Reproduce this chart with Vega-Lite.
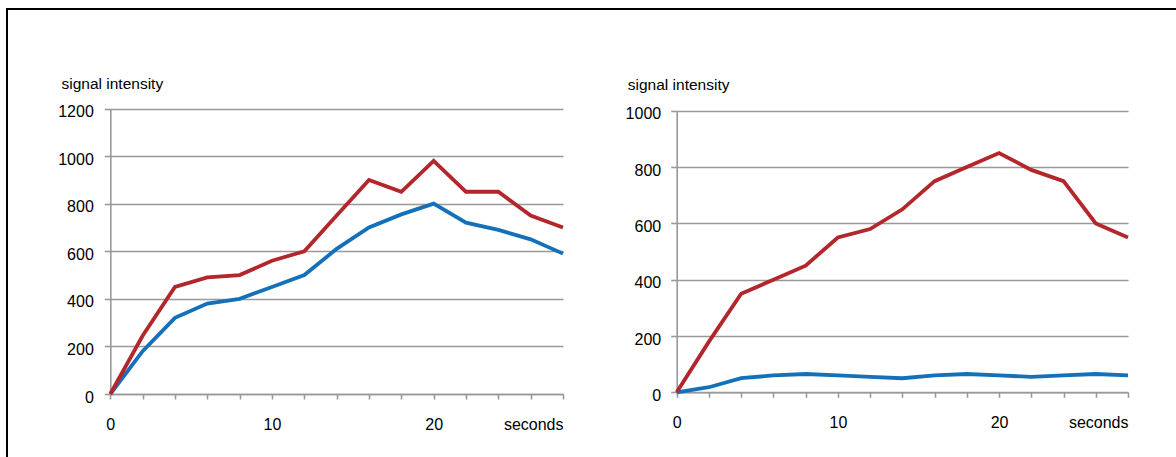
{
  "$schema": "https://vega.github.io/schema/vega-lite/v6.json",
  "width": 1169,
  "height": 448,
  "autosize": "none",
  "padding": {"left": 7, "top": 9, "right": 0, "bottom": 0},
  "background": "white",
  "config": {
    "view": {"stroke": "black", "strokeWidth": 2, "strokeDash": [1169, 1617, 448]},
    "axis": {
      "labelFont": "Liberation Sans",
      "labelFontSize": 16,
      "labelColor": "black",
      "titleFont": "Liberation Sans",
      "titleFontSize": 15.5,
      "titleFontWeight": "normal",
      "titleColor": "black",
      "domainColor": "#999999",
      "domainWidth": 1.6,
      "tickColor": "#999999",
      "tickWidth": 1.6,
      "gridColor": "#999999",
      "gridWidth": 1.6,
      "gridOpacity": 1
    }
  },
  "data": {
    "values": [
      {"panel": "L", "series": "blue", "t": 0, "v": 0},
      {"panel": "L", "series": "blue", "t": 2, "v": 180},
      {"panel": "L", "series": "blue", "t": 4, "v": 320},
      {"panel": "L", "series": "blue", "t": 6, "v": 380},
      {"panel": "L", "series": "blue", "t": 8, "v": 400},
      {"panel": "L", "series": "blue", "t": 10, "v": 450},
      {"panel": "L", "series": "blue", "t": 12, "v": 500},
      {"panel": "L", "series": "blue", "t": 14, "v": 610},
      {"panel": "L", "series": "blue", "t": 16, "v": 700},
      {"panel": "L", "series": "blue", "t": 18, "v": 755},
      {"panel": "L", "series": "blue", "t": 20, "v": 800},
      {"panel": "L", "series": "blue", "t": 22, "v": 720},
      {"panel": "L", "series": "blue", "t": 24, "v": 690},
      {"panel": "L", "series": "blue", "t": 26, "v": 650},
      {"panel": "L", "series": "blue", "t": 28, "v": 590},
      {"panel": "L", "series": "red", "t": 0, "v": 0},
      {"panel": "L", "series": "red", "t": 2, "v": 245},
      {"panel": "L", "series": "red", "t": 4, "v": 450},
      {"panel": "L", "series": "red", "t": 6, "v": 490},
      {"panel": "L", "series": "red", "t": 8, "v": 500},
      {"panel": "L", "series": "red", "t": 10, "v": 560},
      {"panel": "L", "series": "red", "t": 12, "v": 600},
      {"panel": "L", "series": "red", "t": 14, "v": 750},
      {"panel": "L", "series": "red", "t": 16, "v": 900},
      {"panel": "L", "series": "red", "t": 18, "v": 850},
      {"panel": "L", "series": "red", "t": 20, "v": 980},
      {"panel": "L", "series": "red", "t": 22, "v": 850},
      {"panel": "L", "series": "red", "t": 24, "v": 850},
      {"panel": "L", "series": "red", "t": 26, "v": 750},
      {"panel": "L", "series": "red", "t": 28, "v": 700},
      {"panel": "R", "series": "blue", "t": 0, "v": 0},
      {"panel": "R", "series": "blue", "t": 2, "v": 18},
      {"panel": "R", "series": "blue", "t": 4, "v": 50},
      {"panel": "R", "series": "blue", "t": 6, "v": 60},
      {"panel": "R", "series": "blue", "t": 8, "v": 65},
      {"panel": "R", "series": "blue", "t": 10, "v": 60},
      {"panel": "R", "series": "blue", "t": 12, "v": 55},
      {"panel": "R", "series": "blue", "t": 14, "v": 50},
      {"panel": "R", "series": "blue", "t": 16, "v": 60},
      {"panel": "R", "series": "blue", "t": 18, "v": 65},
      {"panel": "R", "series": "blue", "t": 20, "v": 60},
      {"panel": "R", "series": "blue", "t": 22, "v": 55},
      {"panel": "R", "series": "blue", "t": 24, "v": 60},
      {"panel": "R", "series": "blue", "t": 26, "v": 65},
      {"panel": "R", "series": "blue", "t": 28, "v": 60},
      {"panel": "R", "series": "red", "t": 0, "v": 0},
      {"panel": "R", "series": "red", "t": 2, "v": 180},
      {"panel": "R", "series": "red", "t": 4, "v": 350},
      {"panel": "R", "series": "red", "t": 6, "v": 400},
      {"panel": "R", "series": "red", "t": 8, "v": 450},
      {"panel": "R", "series": "red", "t": 10, "v": 550},
      {"panel": "R", "series": "red", "t": 12, "v": 580},
      {"panel": "R", "series": "red", "t": 14, "v": 650},
      {"panel": "R", "series": "red", "t": 16, "v": 750},
      {"panel": "R", "series": "red", "t": 18, "v": 800},
      {"panel": "R", "series": "red", "t": 20, "v": 850},
      {"panel": "R", "series": "red", "t": 22, "v": 790},
      {"panel": "R", "series": "red", "t": 24, "v": 750},
      {"panel": "R", "series": "red", "t": 26, "v": 600},
      {"panel": "R", "series": "red", "t": 28, "v": 550}
    ]
  },
  "layer": [
    {
      "transform": [{"filter": "datum.panel == 'L'"}],
      "mark": {"type": "line", "strokeWidth": 3.8, "strokeJoin": "miter"},
      "encoding": {
        "x": {
          "field": "t", "type": "quantitative",
          "scale": {"domain": [0, 28], "range": [103.3, 556], "nice": false, "zero": false},
          "axis": {
            "orient": "bottom", "offset": -63, "grid": false, "title": null,
            "values": [0, 2, 4, 6, 8, 10, 12, 14, 16, 18, 20, 22, 24, 26, 28],
            "tickSize": 5, "labelPadding": 17, "labelOverlap": false, "labelFlush": false, "labelBound": false,
            "labelExpr": "datum.value == 28 ? 'seconds' : (datum.value % 10 == 0 ? datum.label : '')",
            "labelAlign": {"condition": {"test": "datum.value == 28", "value": "right"}, "value": "center"}
          }
        },
        "y": {
          "field": "v", "type": "quantitative",
          "scale": {"domain": [0, 1200], "range": [385, 99.5], "nice": false},
          "axis": {
            "orient": "left", "offset": -103.3, "grid": true, "format": "d",
            "values": [0, 200, 400, 600, 800, 1000, 1200],
            "tickSize": 6, "labelPadding": 11, "labelOffset": 3,
            "title": "signal intensity", "titleAngle": 0, "titleAlign": "left", "titleBaseline": "alphabetic",
            "titleX": -49.3, "titleY": 79.3
          }
        },
        "color": {
          "field": "series", "type": "nominal",
          "scale": {"domain": ["blue", "red"], "range": ["#1470b8", "#b3262b"]},
          "legend": null
        }
      }
    },
    {
      "transform": [{"filter": "datum.panel == 'R'"}],
      "mark": {"type": "line", "strokeWidth": 3.8, "strokeJoin": "miter"},
      "encoding": {
        "x": {
          "field": "t", "type": "quantitative",
          "scale": {"domain": [0, 28], "range": [669.7, 1121], "nice": false, "zero": false},
          "axis": {
            "orient": "bottom", "offset": -64.7, "grid": false, "title": null,
            "values": [0, 2, 4, 6, 8, 10, 12, 14, 16, 18, 20, 22, 24, 26, 28],
            "tickSize": 5, "labelPadding": 17, "labelOverlap": false, "labelFlush": false, "labelBound": false,
            "labelExpr": "datum.value == 28 ? 'seconds' : (datum.value % 10 == 0 ? datum.label : '')",
            "labelAlign": {"condition": {"test": "datum.value == 28", "value": "right"}, "value": "center"}
          }
        },
        "y": {
          "field": "v", "type": "quantitative",
          "scale": {"domain": [0, 1000], "range": [383.3, 101.8], "nice": false},
          "axis": {
            "orient": "left", "offset": -669.7, "grid": true, "format": "d",
            "values": [0, 200, 400, 600, 800, 1000],
            "tickSize": 6, "labelPadding": 10, "labelOffset": 3,
            "title": "signal intensity", "titleAngle": 0, "titleAlign": "left", "titleBaseline": "alphabetic",
            "titleX": -49.4, "titleY": 80.3
          }
        },
        "color": {
          "field": "series", "type": "nominal",
          "scale": {"domain": ["blue", "red"], "range": ["#1470b8", "#b3262b"]},
          "legend": null
        }
      }
    }
  ],
  "resolve": {
    "scale": {"x": "independent", "y": "independent"},
    "axis": {"x": "independent", "y": "independent"}
  }
}
